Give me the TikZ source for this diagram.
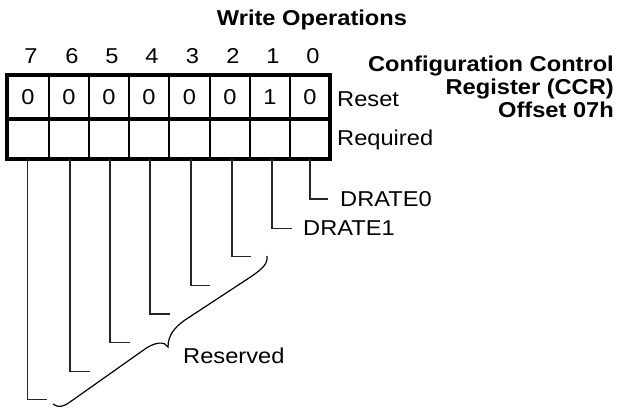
\documentclass[tikz,border=0pt]{standalone}
\usepackage{fontspec}
\setmainfont{Liberation Sans}[FakeStretch=1.1]
\begin{document}
\begin{tikzpicture}[x=1pt,y=-1pt,
  thinline/.style={line width=1.3pt},
  thickline/.style={line width=4pt},
  lbl/.style={inner sep=0pt, font=\fontsize{21.5}{22.8}\selectfont},
  blbl/.style={inner sep=0pt, font=\fontsize{21.5}{22.8}\selectfont\bfseries},
  conn/.style={line width=1.2pt, draw=black!85},
  bracestyle/.style={line width=1.2pt, draw=black}]
\useasboundingbox (0,0) rectangle (621,410);

% grid
\foreach \x in {49,89,129,169,210,250,290}
  \draw[thinline] (\x,74.5) -- (\x,158.5);
\draw[thickline] (7,118.5) -- (330,118.5);
\draw[thickline] (7,74.5) rectangle (330,158.5);

% values and bit numbers
\foreach \c/\v/\n in {28/0/7, 69/0/6, 109/0/5, 149/0/4, 189.5/0/3, 230/0/2, 270/1/1, 310/0/0} {
  \node[lbl, anchor=base] (v\n) at (\c,104.7) {\v};
  \node[lbl, anchor=base] (n\n) at (\c+3,63) {\n};
}

% titles
\node[blbl, anchor=base] (title) at (312,25) {Write Operations};
\node[blbl, anchor=base east] (ccra) at (614,71.5) {Configuration Control};
\node[blbl, anchor=base east] (ccrb) at (614,94.5) {Register (CCR)};
\node[blbl, anchor=base east] (ccrc) at (614,117) {Offset 07h};

\node[lbl, anchor=base west] (reset) at (337,106.7) {Reset};
\node[lbl, anchor=base west] (req) at (337,145) {Required};

% connectors
\foreach \n/\x/\y/\e in {0/310/199/328, 1/272/228.3/291.7, 2/232/256.5/251, 3/191/285.2/210,
                         4/150/314/170, 5/110/342.7/130, 6/70/371.7/90, 7/27.7/399.3/47} {
  \coordinate (t\n) at (\x,158.5);
  \coordinate (e\n) at (\e,\y);
  \draw[conn] (t\n) |- (e\n);
}

\node[lbl, anchor=base west] (d0) at (340,206.7) {DRATE0};
\node[lbl, anchor=base west] (d1) at (303,235) {DRATE1};
\node[lbl, anchor=base west] (res) at (183,363.3) {Reserved};

% brace
\draw[bracestyle] (53,404) .. controls (58,408) and (63,407) .. (70,402)
  -- (145,349) .. controls (155,342) and (165,341) .. (168,347)
  .. controls (168,335) and (175,327) .. (185,320)
  -- (252,276) .. controls (262,269) and (268,264) .. (267,256);
\end{tikzpicture}
\end{document}
